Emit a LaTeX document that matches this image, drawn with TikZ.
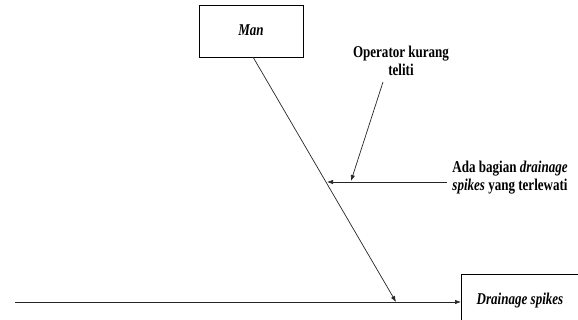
\documentclass[tikz,border=0pt]{standalone}
\usepackage{fontspec}
\setmainfont{Liberation Serif}
\newfontfamily\lbfont[FakeStretch=0.79]{Liberation Serif}
\usetikzlibrary{arrows.meta}
\tikzset{
  catbox/.style={draw=black, line width=0.7pt, inner sep=0pt},
  boxtxt/.style={inner sep=0pt, font=\fontsize{16.5}{18}\lbfont\bfseries\itshape},
  lbl/.style={align=center, inner sep=0pt, font=\fontsize{16.5}{18}\lbfont\bfseries},
  conn/.style={draw=black!85, line width=0.7pt},
  arr/.style={conn, -{Latex[length=6pt,width=4.5pt]}}
}
\begin{document}
\begin{tikzpicture}[x=1pt,y=-1pt]
\useasboundingbox (0,0) rectangle (578,320);
\clip (0,0) rectangle (578,320);
\node[catbox, minimum width=104pt, minimum height=52pt] (man) at (251,31) {};
\node[boxtxt, anchor=base] (mantxt) at (251,36) {Man};
\node[catbox, minimum width=120pt, minimum height=62pt, anchor=north west] (eff) at (461,274) {};
\node[boxtxt, anchor=base] (efftxt) at (520,304) {Drainage spikes};
\coordinate (start) at (15,302);
\coordinate (tip) at (396,302);
\coordinate (mtop) at (253,57);
\coordinate (btip) at (327,182);
\coordinate (bstart) at (447,182);
\coordinate (stip) at (351,181);
\coordinate (sstart) at (383,82);
\node[lbl, anchor=base] (op) at (401,76) {Operator kurang\\teliti};
\node[lbl, anchor=base] (ada) at (510,191) {Ada bagian \textit{drainage}\\\textit{spikes} yang terlewati};
\draw[arr] (start) -- (eff.west |- start);
\draw[arr] (mtop) -- (tip);
\draw[arr] (bstart) -- (btip);
\draw[arr] (sstart) -- (stip);
\end{tikzpicture}
\end{document}
